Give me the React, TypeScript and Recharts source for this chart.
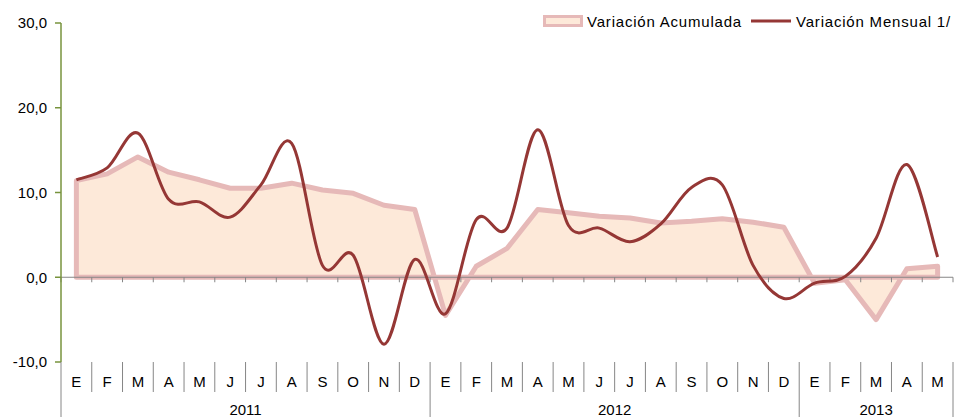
import React from 'react'
import { ComposedChart, Area, Line, XAxis, YAxis, ReferenceLine } from 'recharts'

// Variación mensual vs acumulada, E-2011 .. M-2013
const months = ['E', 'F', 'M', 'A', 'M', 'J', 'J', 'A', 'S', 'O', 'N', 'D']
const years = [
  { label: '2011', count: 12 },
  { label: '2012', count: 12 },
  { label: '2013', count: 5 },
]
const acumulada = [
  11.4, 12.2, 14.2, 12.4, 11.5, 10.5, 10.5, 11.1, 10.3, 9.9, 8.5, 8.0,
  -4.5, 1.3, 3.4, 8.0, 7.6, 7.2, 7.0, 6.4, 6.6, 6.9, 6.5, 5.9,
  -0.7, -0.3, -5.0, 1.0, 1.3,
]
const mensual = [
  11.5, 12.9, 17.0, 9.2, 8.9, 7.1, 10.9, 15.8, 1.4, 2.6, -7.9, 2.1,
  -4.3, 6.8, 5.8, 17.4, 6.1, 5.8, 4.2, 6.3, 10.6, 10.9, 1.4, -2.5,
  -0.7, 0.1, 4.6, 13.3, 2.4,
]
const yTicks = [-10, 0, 10, 20, 30]

const WIDTH = 954
const HEIGHT = 417
const LEFT = 61
const RIGHT = 1
const TOP = 23
const X_AXIS_H = 55
const FONT = '"Liberation Sans", Arial, sans-serif'

const ACUM_STROKE = '#E6B9B8'
const ACUM_FILL = '#FDE9D9'
const MENS_STROKE = '#953735'
const AXIS_GREEN = '#77933C'
const GRID_GRAY = '#868686'

const data: { key: string; month: string; acum: number; mens: number }[] = []
years.forEach((yr) => {
  for (let m = 0; m < yr.count; m++) {
    const i = data.length
    data.push({ key: `${months[m]}-${yr.label}`, month: months[m], acum: acumulada[i], mens: mensual[i] })
  }
})
const N = data.length
const PLOT_W = WIDTH - LEFT - RIGHT
const STEP = PLOT_W / N

// year start indices + label positions
const yearStarts: number[] = []
const yearLabels: { label: string; center: number }[] = []
let acc = 0
years.forEach((yr) => {
  yearStarts.push(acc)
  yearLabels.push({ label: yr.label, center: acc + (yr.count - 1) / 2 })
  acc += yr.count
})

// Excel-like smoothing (Catmull-Rom through the points)
const excelSmooth = (context: any) => {
  let pts: number[][] = []
  return {
    areaStart() {},
    areaEnd() {},
    lineStart() { pts = [] },
    point(x: number, y: number) { pts.push([+x, +y]) },
    lineEnd() {
      const n = pts.length
      if (!n) return
      context.moveTo(pts[0][0], pts[0][1])
      for (let i = 0; i < n - 1; i++) {
        const p0 = pts[i - 1] || pts[i]
        const p1 = pts[i]
        const p2 = pts[i + 1]
        const p3 = pts[i + 2] || p2
        context.bezierCurveTo(
          p1[0] + (p2[0] - p0[0]) / 6, p1[1] + (p2[1] - p0[1]) / 6,
          p2[0] - (p3[0] - p1[0]) / 6, p2[1] - (p3[1] - p1[1]) / 6,
          p2[0], p2[1],
        )
      }
    },
  }
}

const MonthTick = (props: any) => {
  const { x, y, payload } = props
  const i = payload.index
  const left = x - STEP / 2
  const isYearStart = yearStarts.includes(i)
  const yl = yearLabels.find((l) => Math.abs(l.center - i) < 0.01 || Math.abs(l.center - i - 0.5) < 0.01)
  return (
    <g>
      <line x1={left} y1={y} x2={left} y2={isYearStart ? y + 55 : y + 30} stroke={GRID_GRAY} strokeWidth={1} />
      {i === N - 1 && <line x1={x + STEP / 2} y1={y} x2={x + STEP / 2} y2={y + 55} stroke={GRID_GRAY} strokeWidth={1} />}
      <text x={x} y={y + 25} textAnchor="middle" fontSize={15} fill="#000">{data[i].month}</text>
      {yl && (
        <text x={x + (yl.center - i) * STEP} y={y + 53} textAnchor="middle" fontSize={15} fill="#000">{yl.label}</text>
      )}
    </g>
  )
}

// zero axis line with ticks at category boundaries
const ZeroAxis = (props: any) => {
  const { x1, y1, x2 } = props
  const step = (x2 - x1) / N
  const ticks = []
  for (let k = 0; k <= N; k++) {
    ticks.push(<line key={k} x1={x1 + k * step} y1={y1} x2={x1 + k * step} y2={y1 + 5} stroke={GRID_GRAY} strokeWidth={1} />)
  }
  return (
    <g>
      <line x1={x1} y1={y1} x2={x2} y2={y1} stroke={GRID_GRAY} strokeWidth={1.2} />
      {ticks}
    </g>
  )
}

const fmt = (v: number) => v.toFixed(1).replace('.', ',')

export default function App() {
  return (
    <div style={{ position: 'absolute', left: 0, top: 0, width: WIDTH, height: HEIGHT, fontFamily: FONT, background: '#fff' }}>
      {/* Excel strokes the whole area outline (top, sides and baseline) */}
      <style>{`.acum-area .recharts-area-area { stroke: ${ACUM_STROKE}; stroke-width: 5px; stroke-linejoin: round; }`}</style>
      <ComposedChart width={WIDTH} height={HEIGHT} data={data} margin={{ top: TOP, right: RIGHT, bottom: 0, left: 0 }}>
        <XAxis
          dataKey="key"
          interval={0}
          height={X_AXIS_H}
          axisLine={false}
          tickLine={false}
          tickSize={0}
          tickMargin={0}
          padding={{ left: STEP / 2, right: STEP / 2 }}
          tick={<MonthTick />}
        />
        <YAxis
          width={LEFT}
          domain={[-10, 30]}
          ticks={yTicks}
          interval={0}
          tickFormatter={fmt}
          axisLine={{ stroke: AXIS_GREEN, strokeWidth: 1.5 }}
          tickLine={{ stroke: AXIS_GREEN, strokeWidth: 1.5 }}
          tickSize={6}
          tickMargin={8}
          tick={{ fill: '#000', fontSize: 15, fontFamily: FONT }}
        />
        <Area
          className="acum-area"
          dataKey="acum"
          baseValue={0}
          type="linear"
          stroke="none"
          fill={ACUM_FILL}
          fillOpacity={1}
          dot={false}
          activeDot={false}
          isAnimationActive={false}
        />
        <ReferenceLine y={0} shape={<ZeroAxis />} />
        <Line
          dataKey="mens"
          type={excelSmooth as any}
          stroke={MENS_STROKE}
          strokeWidth={3}
          dot={false}
          activeDot={false}
          isAnimationActive={false}
        />
      </ComposedChart>

      <div style={{ position: 'absolute', left: 543, top: 11, height: 20, display: 'flex', alignItems: 'center', fontSize: 15, letterSpacing: 0.8, color: '#000', whiteSpace: 'nowrap' }}>
        <svg width={40} height={12} style={{ marginRight: 4 }}>
          <rect x={1.5} y={1.5} width={37} height={9} fill={ACUM_FILL} stroke={ACUM_STROKE} strokeWidth={3} />
        </svg>
        <span>Variación Acumulada</span>
        <svg width={40} height={12} style={{ marginLeft: 9, marginRight: 5 }}>
          <line x1={0} y1={6} x2={40} y2={6} stroke={MENS_STROKE} strokeWidth={3} />
        </svg>
        <span>Variación Mensual 1/</span>
      </div>
    </div>
  )
}
